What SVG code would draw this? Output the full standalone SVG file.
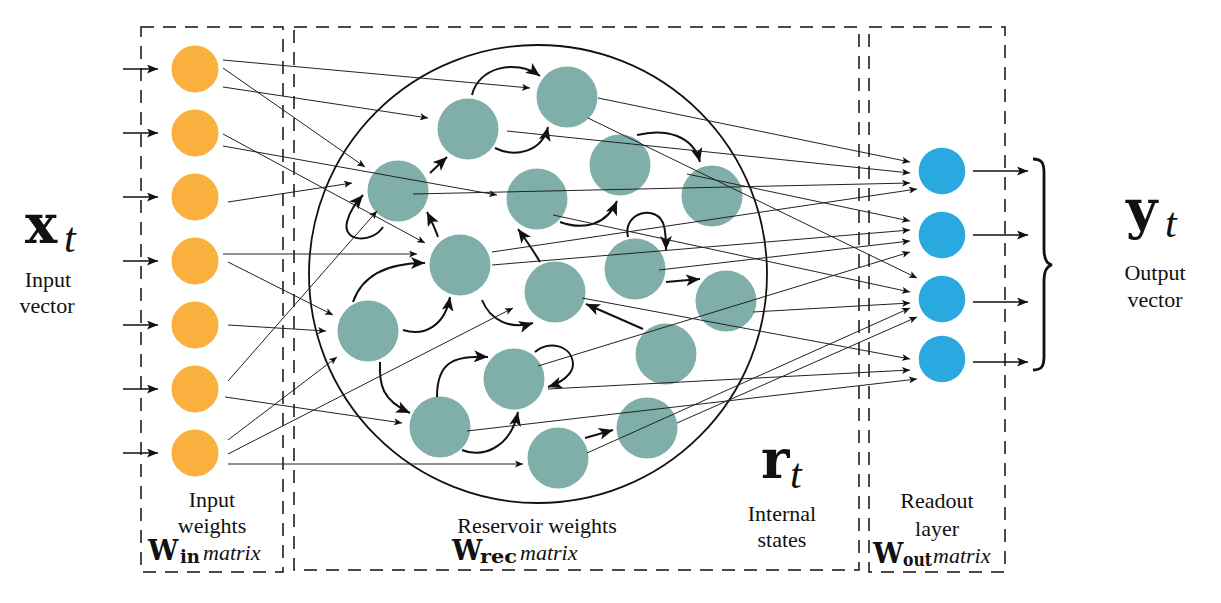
<svg xmlns="http://www.w3.org/2000/svg" width="1221" height="603" viewBox="0 0 1221 603">
<defs>
<marker id="ah" markerUnits="userSpaceOnUse" markerWidth="9" markerHeight="7" refX="8" refY="3.5" orient="auto"><path d="M0,0 L8,3.5 L0,7 L2,3.5 z" fill="#111"/></marker>
<marker id="ih" markerUnits="userSpaceOnUse" markerWidth="12" markerHeight="9" refX="11" refY="4.5" orient="auto"><path d="M0,0 L11,4.5 L0,9 L2.5,4.5 z" fill="#111"/></marker>
<marker id="bh" markerUnits="userSpaceOnUse" markerWidth="15" markerHeight="12" refX="14" refY="6" orient="auto"><path d="M0,0 L14,6 L0,12 L3.5,6 z" fill="#111"/></marker>
</defs>
<style>
.box{fill:none;stroke:#111;stroke-width:1.5;stroke-dasharray:13 9}
.inp{fill:#F9B03E}
.res{fill:#80AFAA}
.out{fill:#29A9E0}
.thin{fill:none;stroke:#222;stroke-width:1;marker-end:url(#ah)}
.bold{fill:none;stroke:#111;stroke-width:2;marker-end:url(#bh)}
.io{fill:none;stroke:#111;stroke-width:1.5;marker-end:url(#ih)}
.lbl{font-size:22px;fill:#111;text-anchor:middle}
.mb{font-weight:bold;fill:#111}
.mi{font-style:italic;fill:#111}
</style>
<rect width="1221" height="603" fill="#fff"/>
<g id="frames">
<rect class="box" x="141" y="27" width="142" height="545"/>
<rect class="box" x="294" y="27" width="565" height="543"/>
<rect class="box" x="869" y="27" width="136" height="545"/>
<circle cx="538" cy="274" r="229" fill="none" stroke="#111" stroke-width="1.8"/>
</g>
<g id="input-nodes">
<circle id="i1" class="inp" cx="195" cy="69" r="23.5"/>
<circle id="i2" class="inp" cx="195" cy="133" r="23.5"/>
<circle id="i3" class="inp" cx="195" cy="197" r="23.5"/>
<circle id="i4" class="inp" cx="195" cy="261" r="23.5"/>
<circle id="i5" class="inp" cx="195" cy="325" r="23.5"/>
<circle id="i6" class="inp" cx="195" cy="389" r="23.5"/>
<circle id="i7" class="inp" cx="195" cy="453" r="23.5"/>
</g>
<g id="reservoir-nodes">
<circle id="n1" class="res" cx="567" cy="97" r="30.5"/>
<circle id="n2" class="res" cx="468" cy="129" r="30.5"/>
<circle id="n3" class="res" cx="620" cy="165" r="30.5"/>
<circle id="n4" class="res" cx="398" cy="191" r="30.5"/>
<circle id="n5" class="res" cx="537" cy="199" r="30.5"/>
<circle id="n6" class="res" cx="712" cy="196" r="30.5"/>
<circle id="n7" class="res" cx="460" cy="265" r="30.5"/>
<circle id="n8" class="res" cx="635" cy="269" r="30.5"/>
<circle id="n9" class="res" cx="555" cy="292" r="30.5"/>
<circle id="n10" class="res" cx="726" cy="301" r="30.5"/>
<circle id="n11" class="res" cx="368" cy="331" r="30.5"/>
<circle id="n12" class="res" cx="666" cy="354" r="30.5"/>
<circle id="n13" class="res" cx="514" cy="379" r="30.5"/>
<circle id="n14" class="res" cx="440" cy="427" r="30.5"/>
<circle id="n15" class="res" cx="647" cy="428" r="30.5"/>
<circle id="n16" class="res" cx="558" cy="458" r="30.5"/>
</g>
<g id="output-nodes">
<circle id="o1" class="out" cx="942" cy="171" r="23.3"/>
<circle id="o2" class="out" cx="942" cy="235" r="23.3"/>
<circle id="o3" class="out" cx="942" cy="299" r="23.3"/>
<circle id="o4" class="out" cx="942" cy="359" r="23.3"/>
</g>
<g id="connectors">
<path class="io" d="M123,69 H158"/>
<path class="io" d="M123,133 H158"/>
<path class="io" d="M123,197 H158"/>
<path class="io" d="M123,261 H158"/>
<path class="io" d="M123,325 H158"/>
<path class="io" d="M123,389 H158"/>
<path class="io" d="M123,453 H158"/>
<path class="thin" d="M223,60 L530,88"/>
<path class="thin" d="M223,68 L365,167"/>
<path class="thin" d="M223,87 L428,118"/>
<path class="thin" d="M223,134 L425,243"/>
<path class="thin" d="M223,146 L497,195"/>
<path class="thin" d="M228,202 L352,183"/>
<path class="thin" d="M223,254 L417,254"/>
<path class="thin" d="M228,262 L333,315"/>
<path class="thin" d="M228,325 L326,331"/>
<path class="thin" d="M228,381 L377,211"/>
<path class="thin" d="M225,397 L402,423"/>
<path class="thin" d="M228,440 L337,357"/>
<path class="thin" d="M228,454 L513,308"/>
<path class="thin" d="M228,464 L523,464"/>
<path class="bold" d="M472,95 C478,68 515,58 540,76"/>
<path class="bold" d="M495,148 C515,158 542,152 548,127"/>
<path class="bold" d="M430,173 L447,157"/>
<path class="bold" d="M383,227 C372,244 342,242 347,222 C350,210 356,203 363,195"/>
<path class="bold" d="M438,237 C435,228 431,220 427,212"/>
<path class="bold" d="M540,262 C533,250 526,240 518,229"/>
<path class="bold" d="M560,222 C585,231 607,224 617,201"/>
<path class="bold" d="M637,135 C665,128 693,135 700,162"/>
<path class="bold" d="M628,237 C622,212 658,203 664,226 C666,234 666,242 666,250"/>
<path class="bold" d="M666,282 L700,279"/>
<path class="bold" d="M643,329 L586,304"/>
<path class="bold" d="M353,302 C362,276 385,263 425,263"/>
<path class="bold" d="M403,330 C425,337 445,325 450,297"/>
<path class="bold" d="M482,300 C490,320 510,330 533,323"/>
<path class="bold" d="M380,362 C379,385 382,400 410,413"/>
<path class="bold" d="M437,397 C437,365 450,355 488,357"/>
<path class="bold" d="M462,450 C480,458 510,450 518,412"/>
<path class="bold" d="M535,352 C548,340 572,345 573,364 C573,375 560,383 548,387"/>
<path class="bold" d="M585,438 L613,430"/>
<path class="thin" d="M598,98 L910,162"/>
<path class="thin" d="M507,131 L910,173"/>
<path class="thin" d="M413,194 L910,183"/>
<path class="thin" d="M492,252 L917,189"/>
<path class="thin" d="M687,174 L910,221"/>
<path class="thin" d="M492,265 L910,230"/>
<path class="thin" d="M659,270 L910,241"/>
<path class="thin" d="M538,366 L910,252"/>
<path class="thin" d="M588,118 L917,278"/>
<path class="thin" d="M553,215 L910,292"/>
<path class="thin" d="M753,312 L910,303"/>
<path class="thin" d="M587,453 L910,308"/>
<path class="thin" d="M677,423 L917,317"/>
<path class="thin" d="M582,298 L910,359"/>
<path class="thin" d="M548,389 L910,370"/>
<path class="thin" d="M467,431 L917,379"/>
<path class="io" d="M973,171 H1028"/>
<path class="io" d="M973,235 H1028"/>
<path class="io" d="M973,302 H1028"/>
<path class="io" d="M973,362 H1028"/>
<path d="M1033,159 C1042,159 1044,163 1044,173 L1044,249 C1044,259 1047,264 1052,265 C1047,266 1044,271 1044,281 L1044,356 C1044,366 1042,370 1033,370" fill="none" stroke="#111" stroke-width="2.8"/>
</g>
<g id="labels" font-family="'Liberation Serif', 'Times New Roman', serif">
<text class="mb" font-family="'DejaVu Serif', serif" x="25" y="243" font-size="54">x</text>
<text class="mi" x="64" y="252" font-size="42">t</text>
<text class="lbl" x="48" y="287">Input</text>
<text class="lbl" x="47" y="313">vector</text>
<text class="mb" font-family="'DejaVu Serif', serif" x="1126" y="228" font-size="54">y</text>
<text class="mi" x="1165" y="237" font-size="42">t</text>
<text class="lbl" x="1155" y="280">Output</text>
<text class="lbl" x="1155" y="307">vector</text>
<text class="mb" font-family="'DejaVu Serif', serif" x="761" y="478" font-size="54">r</text>
<text class="mi" x="790" y="488" font-size="42">t</text>
<text class="lbl" x="782" y="521">Internal</text>
<text class="lbl" x="782" y="547">states</text>
<text class="lbl" x="212" y="507">Input</text>
<text class="lbl" x="212" y="533">weights</text>
<text class="mb" font-family="'DejaVu Serif', serif" x="148" y="560" font-size="27">W</text>
<text class="mb" font-family="'DejaVu Serif', serif" x="180" y="563" font-size="18">in</text>
<text class="mi" x="203" y="560" font-size="22">matrix</text>
<text class="lbl" x="537" y="533">Reservoir weights</text>
<text class="mb" font-family="'DejaVu Serif', serif" x="452" y="560" font-size="27">W</text>
<text class="mb" font-family="'DejaVu Serif', serif" x="480" y="563" font-size="18" textLength="37" lengthAdjust="spacingAndGlyphs">rec</text>
<text class="mi" x="520" y="560" font-size="22">matrix</text>
<text class="lbl" x="937" y="508">Readout</text>
<text class="lbl" x="937" y="536">layer</text>
<text class="mb" font-family="'DejaVu Serif', serif" x="873" y="563" font-size="27">W</text>
<text class="mb" font-family="'DejaVu Serif', serif" x="903" y="566" font-size="18" textLength="29" lengthAdjust="spacingAndGlyphs">out</text>
<text class="mi" x="933" y="563" font-size="22">matrix</text>
</g>
</svg>
